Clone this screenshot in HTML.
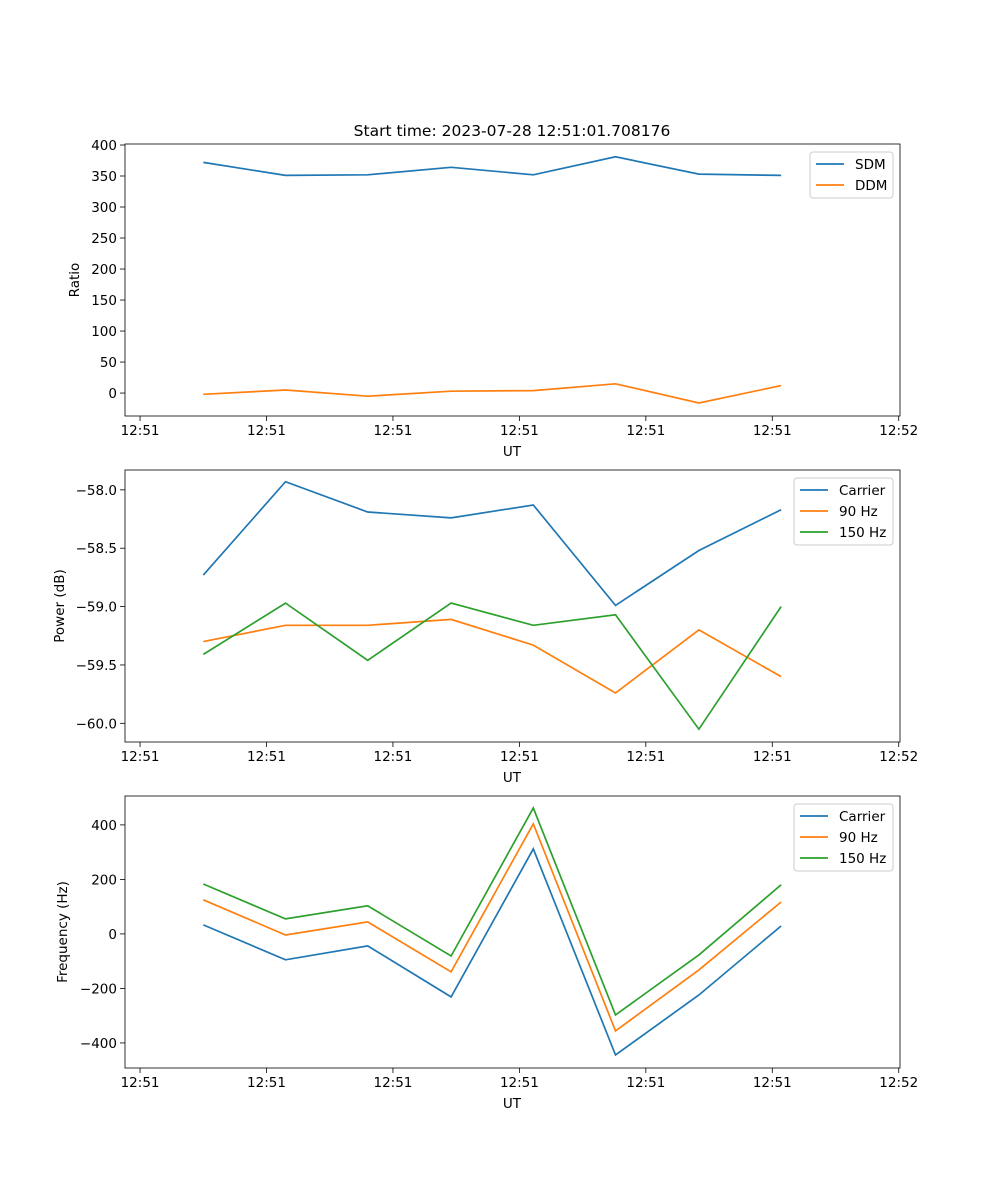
<!DOCTYPE html>
<html><head><meta charset="utf-8"><style>
body{margin:0;background:#fff}
svg{display:block;font-family:"DejaVu Sans","Liberation Sans",sans-serif}
</style></head><body>
<svg id="fig" width="1000" height="1200" viewBox="0 0 1000 1200">
<rect width="1000" height="1200" fill="#fff"/>
<text x="512" y="136" font-size="15.5" text-anchor="middle">Start time: 2023-07-28 12:51:01.708176</text>
</svg>
<script>
const times = [5.0, 11.5, 18.0, 24.6, 31.1, 37.6, 44.2, 50.7];
const xTicks = [0, 10, 20, 30, 40, 50, 60];
const xTickLabels = ["12:51","12:51","12:51","12:51","12:51","12:51","12:52"];
const sdm = [372, 351, 352, 364, 352, 381, 353, 351];
const ddm = [-2, 5, -5, 3, 4, 15, -16, 12];
const powCarrier = [-58.73, -57.93, -58.19, -58.24, -58.13, -58.99, -58.52, -58.17];
const pow90 = [-59.30, -59.16, -59.16, -59.11, -59.33, -59.74, -59.20, -59.60];
const pow150 = [-59.41, -58.97, -59.46, -58.97, -59.16, -59.07, -60.05, -59.00];
const freqCarrier = [33, -95, -44, -231, 312, -444, -224, 29];
const freq90 = [125, -4, 44, -139, 404, -356, -132, 117];
const freq150 = [183, 55, 103, -81, 462, -297, -77, 180];
const ticks1 = [0,50,100,150,200,250,300,350,400];
const ticks2 = [-60.0,-59.5,-59.0,-58.5,-58.0];
const ticks3 = [-400,-200,0,200,400];

const NS="http://www.w3.org/2000/svg";
const svg=document.getElementById('fig');
function mk(tag,attrs,parent){const e=document.createElementNS(NS,tag);for(const k in attrs)e.setAttribute(k,attrs[k]);(parent||svg).appendChild(e);return e;}
const C=['#1f77b4','#ff7f0e','#2ca02c'];
const L=125,R=900;
const xs=t=>L+(t+1.19)/(61.29)*(R-L);

function panel(name,top,ymin,ymax,yTicks,fmt,ylabel,yx,series,names,legX,legW){
  const bot=top+272;
  const g=mk('g',{});
  
  
  const ys=v=>bot-(v-ymin)/(ymax-ymin)*272;
  xTicks.forEach((t,i)=>{
    const x=xs(t);
    mk('line',{x1:x,x2:x,y1:bot,y2:bot+5,stroke:'#000','stroke-width':0.8},g);
    const tx=mk('text',{x:x,y:bot+19,'font-size':13.5,'text-anchor':'middle'},g);
    tx.textContent=xTickLabels[i];
    
    
  });
  const xl=mk('text',{x:512,y:bot+40,'font-size':13.5,'text-anchor':'middle'},g);
  xl.textContent='UT';
  
  
  yTicks.forEach(v=>{
    const y=ys(v);
    mk('line',{x1:L-5,x2:L,y1:y,y2:y,stroke:'#000','stroke-width':0.8},g);
    const tx=mk('text',{x:L-8,y:y+5,'font-size':13.5,'text-anchor':'end'},g);
    tx.textContent=fmt(v);
    
    
  });
  const yl=mk('text',{x:yx,y:top+136,'font-size':13.5,'text-anchor':'middle',transform:`rotate(-90 ${yx} ${top+136})`},g);
  yl.textContent=ylabel;
  
  
  series.forEach((s,k)=>{
    const p=mk('polyline',{points:s.map((v,i)=>xs(times[i]).toFixed(1)+','+ys(v).toFixed(1)).join(' '),fill:'none',stroke:C[k],'stroke-width':1.7},g);
    
    
  });
  mk('rect',{x:L,y:top,width:R-L,height:272,fill:'none',stroke:'#000','stroke-width':0.8},g);
  const lg=mk('g',{},g);
  
  
  mk('rect',{x:legX,y:top+8,width:legW,height:names.length*21+4,rx:3,fill:'#fff','fill-opacity':0.8,stroke:'#ccc'},lg);
  names.forEach((n,k)=>{
    const y=top+20+k*21;
    mk('line',{x1:legX+6,x2:legX+34,y1:y,y2:y,stroke:C[k],'stroke-width':1.7},lg);
    const t=mk('text',{x:legX+45,y:y+5,'font-size':13.5},lg);
    t.textContent=n;
    
    
  });
}
panel('ratio-panel',144,-37,401.6,ticks1,v=>String(v),'Ratio',79,[sdm,ddm],['SDM','DDM'],810,83);
panel('power-panel',470,-60.16,-57.83,ticks2,v=>'\u2212'+Math.abs(v).toFixed(1),'Power (dB)',64,[powCarrier,pow90,pow150],['Carrier','90 Hz','150 Hz'],794,99);
panel('frequency-panel',796,-492,506,ticks3,v=>(v<0?'\u2212':'')+Math.abs(v),'Frequency (Hz)',67,[freqCarrier,freq90,freq150],['Carrier','90 Hz','150 Hz'],794,99);
</script>
</body></html>
